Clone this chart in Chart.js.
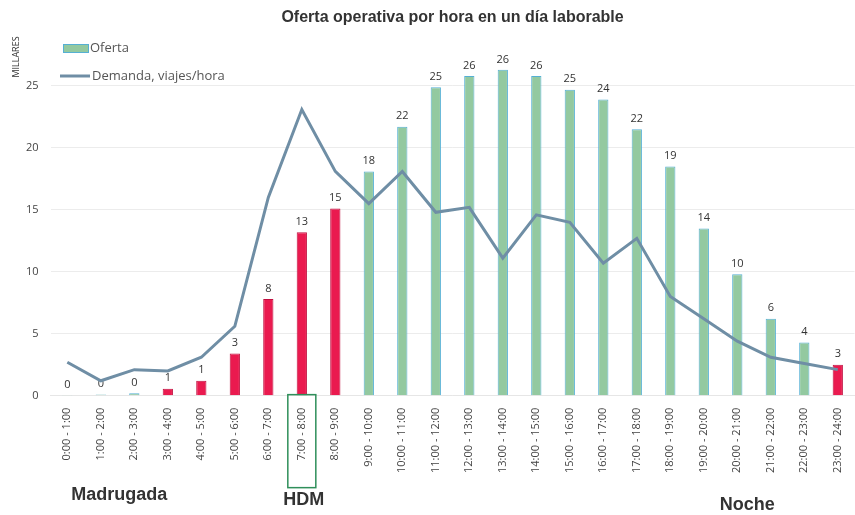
<!DOCTYPE html>
<html>
<head>
<meta charset="utf-8">
<script src="https://cdn.jsdelivr.net/npm/chart.js@4"></script>
<style>
  html, body { margin: 0; padding: 0; background: #fff; }
  #wrap { width: 855px; height: 515px; }
</style>
</head>
<body>
<div id="wrap"><canvas id="myChart"></canvas></div>
<script>
// Categories (hour ranges)
const horas = ['0:00 - 1:00', '1:00 - 2:00', '2:00 - 3:00', '3:00 - 4:00', '4:00 - 5:00', '5:00 - 6:00',
  '6:00 - 7:00', '7:00 - 8:00', '8:00 - 9:00', '9:00 - 10:00', '10:00 - 11:00', '11:00 - 12:00',
  '12:00 - 13:00', '13:00 - 14:00', '14:00 - 15:00', '15:00 - 16:00', '16:00 - 17:00', '17:00 - 18:00',
  '18:00 - 19:00', '19:00 - 20:00', '20:00 - 21:00', '21:00 - 22:00', '22:00 - 23:00', '23:00 - 24:00'];

// Oferta (miles) - bars
const oferta = [0.05, 0.1, 0.2, 0.55, 1.2, 3.4, 7.8, 13.2, 15.1, 18.1, 21.7, 24.9,
  25.8, 26.3, 25.8, 24.7, 23.9, 21.5, 18.5, 13.5, 9.8, 6.2, 4.3, 2.5];

// Demanda, viajes/hora (miles) - line
const demanda = [2.7, 1.2, 2.1, 2.0, 3.1, 5.6, 16.0, 23.1, 18.1, 15.5, 18.1, 14.8,
  15.2, 11.1, 14.6, 14.0, 10.7, 12.7, 8.0, 6.2, 4.4, 3.1, 2.6, 2.1];

// Hours drawn in red (punta / noche)
const horasRojas = [3, 4, 5, 6, 7, 8, 23];

const yTicks = [0, 5, 10, 15, 20, 25];

const green = '#93c9a0';
const greenBorder = '#55b0d4';
const red = '#ea1a4f';
const redBorder = '#c01040';
const lineColor = '#6f8ea5';

const barFill = oferta.map((v, i) => horasRojas.includes(i) ? red : green);
const barBorder = oferta.map((v, i) => horasRojas.includes(i) ? redBorder : greenBorder);

const extras = {
  id: 'extras',
  afterDatasetDraw(chart, args) {
    if (args.index !== 1) return;
    const ctx = chart.ctx;
    const meta = chart.getDatasetMeta(1);
    ctx.save();
    ctx.fillStyle = '#333';
    ctx.font = '11px "Open Sans", sans-serif';
    ctx.textAlign = 'center';
    ctx.textBaseline = 'bottom';
    meta.data.forEach((bar, i) => {
      ctx.fillText(Math.round(oferta[i]), bar.x, bar.y - 5);
    });
    ctx.restore();
  },
  afterDraw(chart) {
    const ctx = chart.ctx;
    const x = chart.scales.x;
    const area = chart.chartArea;
    ctx.save();
    // legend
    ctx.font = '13px "Open Sans", sans-serif';
    ctx.textBaseline = 'middle';
    ctx.fillStyle = green;
    ctx.fillRect(63, 44, 25, 8);
    ctx.strokeStyle = greenBorder;
    ctx.lineWidth = 1;
    ctx.strokeRect(63.5, 44.5, 25, 8);
    ctx.fillStyle = '#555';
    ctx.textAlign = 'left';
    ctx.fillText('Oferta', 90, 48);
    ctx.strokeStyle = lineColor;
    ctx.lineWidth = 3;
    ctx.beginPath();
    ctx.moveTo(60, 76);
    ctx.lineTo(90, 76);
    ctx.stroke();
    ctx.fillText('Demanda, viajes/hora', 92, 76);

    // MILLARES
    ctx.save();
    ctx.translate(16, 57);
    ctx.rotate(-Math.PI / 2);
    ctx.font = '9px "Open Sans", sans-serif';
    ctx.textAlign = 'center';
    ctx.fillStyle = '#333';
    ctx.fillText('MILLARES', 0, 0);
    ctx.restore();

    // box around 7:00 - 8:00
    const hx = x.getPixelForValue(7);
    ctx.strokeStyle = '#2f8f5a';
    ctx.lineWidth = 1.5;
    ctx.strokeRect(hx - 14, area.bottom - 1, 28, 93);

    // period names
    ctx.fillStyle = '#333';
    ctx.font = 'bold 18px "Liberation Sans", Arial, sans-serif';
    ctx.textAlign = 'center';
    ctx.fillText('Madrugada', x.getPixelForValue(1.55), 495);
    ctx.fillText('HDM', hx + 2, 500);
    ctx.fillText('Noche', x.getPixelForValue(20.3), 505);
    ctx.restore();
  }
};

new Chart(document.getElementById('myChart'), {
  data: {
    labels: horas,
    datasets: [
      {
        type: 'line',
        label: 'Demanda, viajes/hora',
        data: demanda,
        borderColor: lineColor,
        borderWidth: 3,
        pointRadius: 0,
        tension: 0,
        order: 0
      },
      {
        type: 'bar',
        label: 'Oferta',
        data: oferta,
        backgroundColor: barFill,
        borderColor: barBorder,
        borderWidth: 1,
        barPercentage: 0.9,
        categoryPercentage: 0.34,
        order: 1
      }
    ]
  },
  options: {
    responsive: true,
    maintainAspectRatio: false,
    animation: false,
    layout: { padding: { left: 14, right: 0, top: 4, bottom: 38 } },
    plugins: {
      legend: { display: false },
      tooltip: { enabled: false },
      title: {
        display: true,
        fullSize: false,
        text: 'Oferta operativa por hora en un día laborable',
        color: '#333',
        font: { family: '"Liberation Sans", Arial, sans-serif', size: 16, weight: 'bold' },
        padding: { top: 4, bottom: 34 }
      }
    },
    scales: {
      x: {
        grid: { display: false },
        border: { color: '#e6e6e6' },
        ticks: {
          autoSkip: false,
          minRotation: 90,
          maxRotation: 90,
          color: '#444',
          padding: 4,
          font: { family: '"Open Sans", sans-serif', size: 11 }
        }
      },
      y: {
        min: 0,
        max: 27,
        afterBuildTicks(scale) {
          scale.ticks = yTicks.map(v => ({ value: v }));
        },
        border: { display: false },
        grid: { color: '#ececec', drawTicks: false, lineWidth: 1 },
        ticks: {
          color: '#444',
          padding: 12,
          font: { family: '"Open Sans", sans-serif', size: 11 }
        }
      }
    }
  },
  plugins: [extras]
});
</script>
</body>
</html>
